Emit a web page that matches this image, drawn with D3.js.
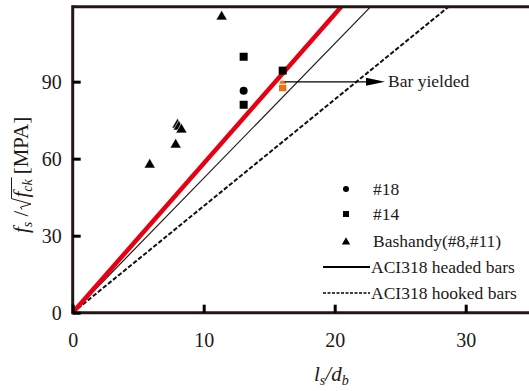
<!DOCTYPE html>
<html>
<head>
<meta charset="utf-8">
<script src="https://cdn.jsdelivr.net/npm/d3@7"></script>
<style>
  body { margin: 0; background: #fff; }
  svg text { font-family: "Liberation Serif", "Times New Roman", serif; fill: #231815; }
</style>
</head>
<body>
<div id="chart"></div>
<script>
// data
const bar18 = [[13.05, 86.5]];
const bar14 = [[13.05, 99.7], [13.05, 81.0], [16.03, 94.3]];
const bashandy = [[5.88, 58.0], [7.86, 65.8], [8.0, 73.6], [8.1, 72.8], [8.3, 71.7], [11.37, 115.7]];
const yielded = [[16.03, 88.0]];
const redLine = [[0, 0], [20.5, 119.2]];
const headedLine = [[0, 0], [22.75, 119.2]];
const hookedLine = [[0, 0], [28.7, 119.2]];
const xTicks = [0, 10, 20, 30];
const yTicks = [0, 30, 60, 90];
const legText = ["#18", "#14", "Bashandy(#8,#11)", "ACI318 headed bars", "ACI318 hooked bars"];

const width = 529, height = 391;
const margin = { left: 72.7, top: 6.7, bottom: 78.3 };
const dark = "#231815";
const serif = '"Liberation Serif", "Times New Roman", serif';

const svg = d3.select("#chart").append("svg")
  .attr("width", width).attr("height", height);

const x = d3.scaleLinear().domain([0, 35]).range([margin.left, margin.left + 35 * 13.1]);
const y = d3.scaleLinear().domain([0, 119.2]).range([height - margin.bottom, margin.top]);

svg.append("defs").append("clipPath").attr("id", "clip")
  .append("rect")
  .attr("x", x(0)).attr("y", y(119.2))
  .attr("width", x(35) - x(0)).attr("height", y(0) - y(119.2));

const plot = svg.append("g").attr("clip-path", "url(#clip)");
const line = d3.line().x(d => x(d[0])).y(d => y(d[1]));

plot.append("path").datum(hookedLine).attr("d", line)
  .attr("stroke", "#111").attr("stroke-width", 2).attr("stroke-dasharray", "4.5,2").attr("fill", "none");
plot.append("path").datum(headedLine).attr("d", line)
  .attr("stroke", dark).attr("stroke-width", 1.2).attr("fill", "none");
plot.append("path").datum(redLine).attr("d", line)
  .attr("stroke", "#e60012").attr("stroke-width", 4.5).attr("fill", "none");

// markers
const tri = d3.symbol().type(d3.symbolTriangle).size(55);
plot.selectAll(".tri").data(bashandy).enter().append("path")
  .attr("d", tri)
  .attr("transform", d => `translate(${x(d[0])},${y(d[1]) + 1})`)
  .attr("fill", "#000").attr("stroke", "#fff").attr("stroke-width", 0.6);

plot.selectAll(".sq").data(bar14).enter().append("rect")
  .attr("x", d => x(d[0]) - 4).attr("y", d => y(d[1]) - 4)
  .attr("width", 8).attr("height", 8).attr("fill", "#000");

plot.selectAll(".circ").data(bar18).enter().append("circle")
  .attr("cx", d => x(d[0])).attr("cy", d => y(d[1])).attr("r", 4).attr("fill", "#000");

const orange = "#e5761d";
yielded.forEach(d => {
  plot.append("circle").attr("cx", x(d[0])).attr("cy", y(d[1]) - 3).attr("r", 3.3).attr("fill", orange);
  plot.append("rect").attr("x", x(d[0]) - 3.7).attr("y", y(d[1]) - 2).attr("width", 7.4).attr("height", 6.5).attr("fill", orange);
  plot.append("line").attr("x1", x(d[0]) - 3.7).attr("x2", x(d[0]) + 3.7)
    .attr("y1", y(d[1]) - 2.5).attr("y2", y(d[1]) - 2.5).attr("stroke", "#fff").attr("stroke-width", 1);
});

// arrow for yielded bar
const ay = y(yielded[0][1]) - 5;
svg.append("line").attr("x1", x(yielded[0][0]) + 2).attr("x2", 370)
  .attr("y1", ay).attr("y2", ay).attr("stroke", "#000").attr("stroke-width", 1.2);
svg.append("path").attr("d", `M366,${ay - 4}L385,${ay}L366,${ay + 4}Z`).attr("fill", "#000");
svg.append("text").attr("x", 388).attr("y", ay + 5.5).style("font-size", "17.5px").text("Bar yielded");

// axes frame
const frame = svg.append("g").attr("stroke", dark).attr("stroke-width", 3).attr("fill", "none");
frame.append("line").attr("x1", x(0)).attr("x2", width).attr("y1", y(0)).attr("y2", y(0));
frame.append("line").attr("x1", x(0)).attr("x2", width).attr("y1", y(119.2)).attr("y2", y(119.2));
frame.append("line").attr("x1", x(0)).attr("x2", x(0)).attr("y1", y(0) + 1.5).attr("y2", y(119.2) - 1.5);

const xAxis = d3.axisBottom(x).tickValues(xTicks).tickSize(-8).tickPadding(20);
const gx = svg.append("g").attr("transform", `translate(0,${y(0)})`).call(xAxis);
gx.select(".domain").remove();
gx.selectAll(".tick line").attr("stroke", "#000").attr("stroke-width", 3);
gx.selectAll(".tick text").style("font-size", "20px").style("font-family", serif).style("fill", dark);

const yAxis = d3.axisLeft(y).tickValues(yTicks).tickSize(-8).tickPadding(11);
const gy = svg.append("g").attr("transform", `translate(${x(0)},0)`).call(yAxis);
gy.select(".domain").remove();
gy.selectAll(".tick line").attr("stroke", "#000").attr("stroke-width", 3);
gy.selectAll(".tick text").style("font-size", "20px").style("font-family", serif).style("fill", dark);

// legend
const leg = svg.append("g");
const legY = [189, 214, 241, 267, 293];
leg.append("circle").attr("cx", 346).attr("cy", legY[0]).attr("r", 3).attr("fill", "#000");
leg.append("rect").attr("x", 343).attr("y", legY[1] - 3).attr("width", 6).attr("height", 6).attr("fill", "#000");
leg.append("path").attr("d", d3.symbol().type(d3.symbolTriangle).size(30))
  .attr("transform", `translate(346,${legY[2] + 1})`).attr("fill", "#000");
leg.append("line").attr("x1", 323).attr("x2", 370).attr("y1", legY[3]).attr("y2", legY[3])
  .attr("stroke", "#000").attr("stroke-width", 2);
leg.append("line").attr("x1", 323).attr("x2", 370).attr("y1", legY[4]).attr("y2", legY[4])
  .attr("stroke", "#000").attr("stroke-width", 1.5).attr("stroke-dasharray", "3,1.5");
leg.selectAll(".lt").data(legText).enter().append("text")
  .attr("x", d => d.startsWith("ACI") ? 371 : 373)
  .attr("y", (d, i) => legY[i] + 6)
  .style("font-size", "17.5px")
  .text(d => d);

// x axis title
const xl = svg.append("text").attr("x", 314).attr("y", 381).style("font-size", "21px").style("font-style", "italic");
xl.append("tspan").text("l");
xl.append("tspan").style("font-size", "14px").attr("dy", 4).text("s");
xl.append("tspan").attr("dy", -4).text("/d");
xl.append("tspan").style("font-size", "14px").attr("dy", 4).text("b");

// y axis title, built in a rotated group so the radical can be drawn
const yg = svg.append("g").attr("transform", "translate(28,233) rotate(-90)");
const t1 = yg.append("text").attr("x", 0).attr("y", 0).style("font-size", "21px");
t1.append("tspan").style("font-style", "italic").text("f");
t1.append("tspan").style("font-style", "italic").style("font-size", "14px").attr("dy", 4).text("s");
t1.append("tspan").attr("dy", -4).text(" / ");
const w1 = t1.node().getComputedTextLength();
const rx = w1 + 1;
const rw = 11;
const t2 = yg.append("text").attr("x", rx + rw + 1).attr("y", 0).style("font-size", "21px");
t2.append("tspan").style("font-style", "italic").text("f");
t2.append("tspan").style("font-style", "italic").style("font-size", "14px").attr("dy", 4).text("ck");
const w2 = t2.node().getComputedTextLength();
yg.append("path")
  .attr("d", `M${rx},-6L${rx + 2.5},-7.5L${rx + 5.5},3L${rx + rw},-16.5H${rx + rw + w2 + 3}`)
  .attr("fill", "none").attr("stroke", dark).attr("stroke-width", 1);
yg.append("text").attr("x", rx + rw + w2 + 6).attr("y", 0).style("font-size", "21px").text("[MPA]");
</script>
</body>
</html>
